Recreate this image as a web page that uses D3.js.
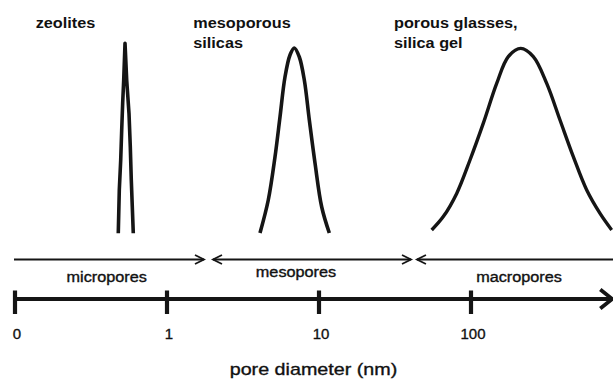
<!DOCTYPE html>
<html>
<head>
<meta charset="utf-8">
<script src="https://cdn.jsdelivr.net/npm/d3@7"></script>
<style>
  html, body { margin: 0; padding: 0; background: #fff; }
  svg { display: block; }
  text { font-family: "Liberation Sans", Arial, Helvetica, sans-serif; fill: #111; }
  text.reg { stroke: #111; stroke-width: 0.35px; }
</style>
</head>
<body>
<svg id="chart" width="613" height="379"></svg>
<script>
// ---- data (pore diameter in nm, relative intensity 0-100) ----
const tickValues = [0.1, 1, 10, 100];
const tickLabels = ["0", "1", "10", "100"];
const axisEnd = 850;

const rangeNames = ["micropores", "mesopores", "macropores"];
const rangeStart = [0.0985, 2.007, 44.1];
const rangeEnd   = [1.751, 40.3, 870];
const rangeHeads = ["end", "both", "start"];

const zeoliteD = [0.478, 0.4855, 0.496, 0.5035, 0.511, 0.519, 0.5294, 0.543, 0.5623, 0.5735, 0.5822, 0.5911, 0.6001];
const zeoliteI = [3.35, 25, 40, 55, 68.5, 80, 98.35, 80, 63.35, 46.65, 30, 16.65, 3.35];

const mesoD = [4.091, 4.638, 5.134, 5.538, 5.974, 6.446, 6.879, 7.421, 8.005, 8.636, 9.412, 10.42, 11.69];
const mesoI = [3.5, 20, 41.5, 61.5, 81.5, 92.5, 96, 91.5, 80, 60, 38.5, 16.5, 3.5];

const glassD = [55.13, 65.74, 80.53, 98.49, 120.4, 147.6, 176.0, 212.3, 257.0, 314.8, 385.0, 471.0, 577.0, 706.0, 842.8];
const glassI = [5, 11.7, 23.3, 40, 58.3, 78.3, 91.7, 95.8, 91.7, 78.3, 60, 41.7, 25, 13.3, 5];

const peakLabels = [["zeolites"], ["mesoporous", "silicas"], ["porous glasses,", "silica gel"]];
const axisTitle = "pore diameter (nm)";

// ---- drawing ----
const svg = d3.select("#chart");
const ink = "#151515";
const stretch = 1.16;

const x = d3.scaleLog().domain([0.1, 100]).range([15, 471]);
const y = d3.scaleLinear().domain([0, 100]).range([240, 40]);

function series(ds, is) { return ds.map((d, i) => [d, is[i]]); }

const peaks = [
  { pts: series(zeoliteD, zeoliteI), curve: d3.curveLinear, w: 3.6 },
  { pts: series(mesoD, mesoI), curve: d3.curveCatmullRom.alpha(0.5), w: 3.6 },
  { pts: series(glassD, glassI), curve: d3.curveCatmullRom.alpha(0.5), w: 3.4 }
];

peaks.forEach(p => {
  const line = d3.line().x(d => x(d[0])).y(d => y(d[1])).curve(p.curve);
  svg.append("path")
    .attr("d", line(p.pts))
    .attr("fill", "none")
    .attr("stroke", ink)
    .attr("stroke-width", p.w)
    .attr("stroke-linejoin", "round")
    .attr("stroke-linecap", "butt");
});

// peak labels (bold)
const peakLabelPos = [[35.7, 28.3], [193.3, 28.3], [394, 28.3]];
peakLabels.forEach((lines, k) => {
  const [lx, ly] = peakLabelPos[k];
  lines.forEach((t, j) => {
    svg.append("text")
      .attr("transform", `translate(${lx},${ly + j * 20}) scale(${stretch},1)`)
      .attr("font-size", 14)
      .attr("font-weight", "bold")
      .text(t);
  });
});

// range arrows
const arrowY = 259.5;
function chevron(tipX, tipY, dir, len, half) {
  return `M${tipX - dir * len},${tipY - half}L${tipX},${tipY}L${tipX - dir * len},${tipY + half}`;
}
rangeNames.forEach((name, i) => {
  const x0 = x(rangeStart[i]), x1 = x(rangeEnd[i]);
  const g = svg.append("g").attr("stroke", ink).attr("fill", "none").attr("stroke-width", 1.8);
  g.append("line").attr("x1", x0).attr("x2", x1).attr("y1", arrowY).attr("y2", arrowY);
  if (rangeHeads[i] === "end" || rangeHeads[i] === "both")
    g.append("path").attr("d", chevron(x1, arrowY, 1, 9, 4.5));
  if (rangeHeads[i] === "start" || rangeHeads[i] === "both")
    g.append("path").attr("d", chevron(x0, arrowY, -1, 9, 4.5));
});
const rangeLabelPos = [[106.7, 281.7], [296, 277.3], [519, 282]];
rangeNames.forEach((name, i) => {
  const [lx, ly] = rangeLabelPos[i];
  svg.append("text")
    .attr("class", "reg")
    .attr("transform", `translate(${lx},${ly}) scale(${stretch},1)`)
    .attr("text-anchor", "middle")
    .attr("font-size", 14)
    .text(name);
});

// main axis
const axisY = 299;
const ax = svg.append("g").attr("stroke", ink).attr("fill", "none");
ax.append("line")
  .attr("x1", x(tickValues[0]) - 1).attr("x2", x(axisEnd))
  .attr("y1", axisY).attr("y2", axisY)
  .attr("stroke-width", 3.8);
ax.append("path")
  .attr("d", chevron(x(axisEnd), axisY, 1, 12, 9.5))
  .attr("stroke-width", 3.8)
  .attr("stroke-linejoin", "miter");
ax.selectAll("line.tick").data(tickValues).enter().append("line")
  .attr("class", "tick")
  .attr("x1", d => x(d)).attr("x2", d => x(d))
  .attr("y1", 290.5).attr("y2", 314)
  .attr("stroke-width", 4.2);

svg.selectAll("text.tl").data(tickValues).enter().append("text")
  .attr("class", "tl reg")
  .attr("x", d => x(d) + 2)
  .attr("y", 339)
  .attr("text-anchor", "middle")
  .attr("font-size", 15)
  .text((d, i) => tickLabels[i]);

svg.append("text")
  .attr("class", "reg")
  .attr("transform", `translate(313.5,375) scale(${stretch},1)`)
  .attr("text-anchor", "middle")
  .attr("font-size", 17)
  .text(axisTitle);
</script>
</body>
</html>
